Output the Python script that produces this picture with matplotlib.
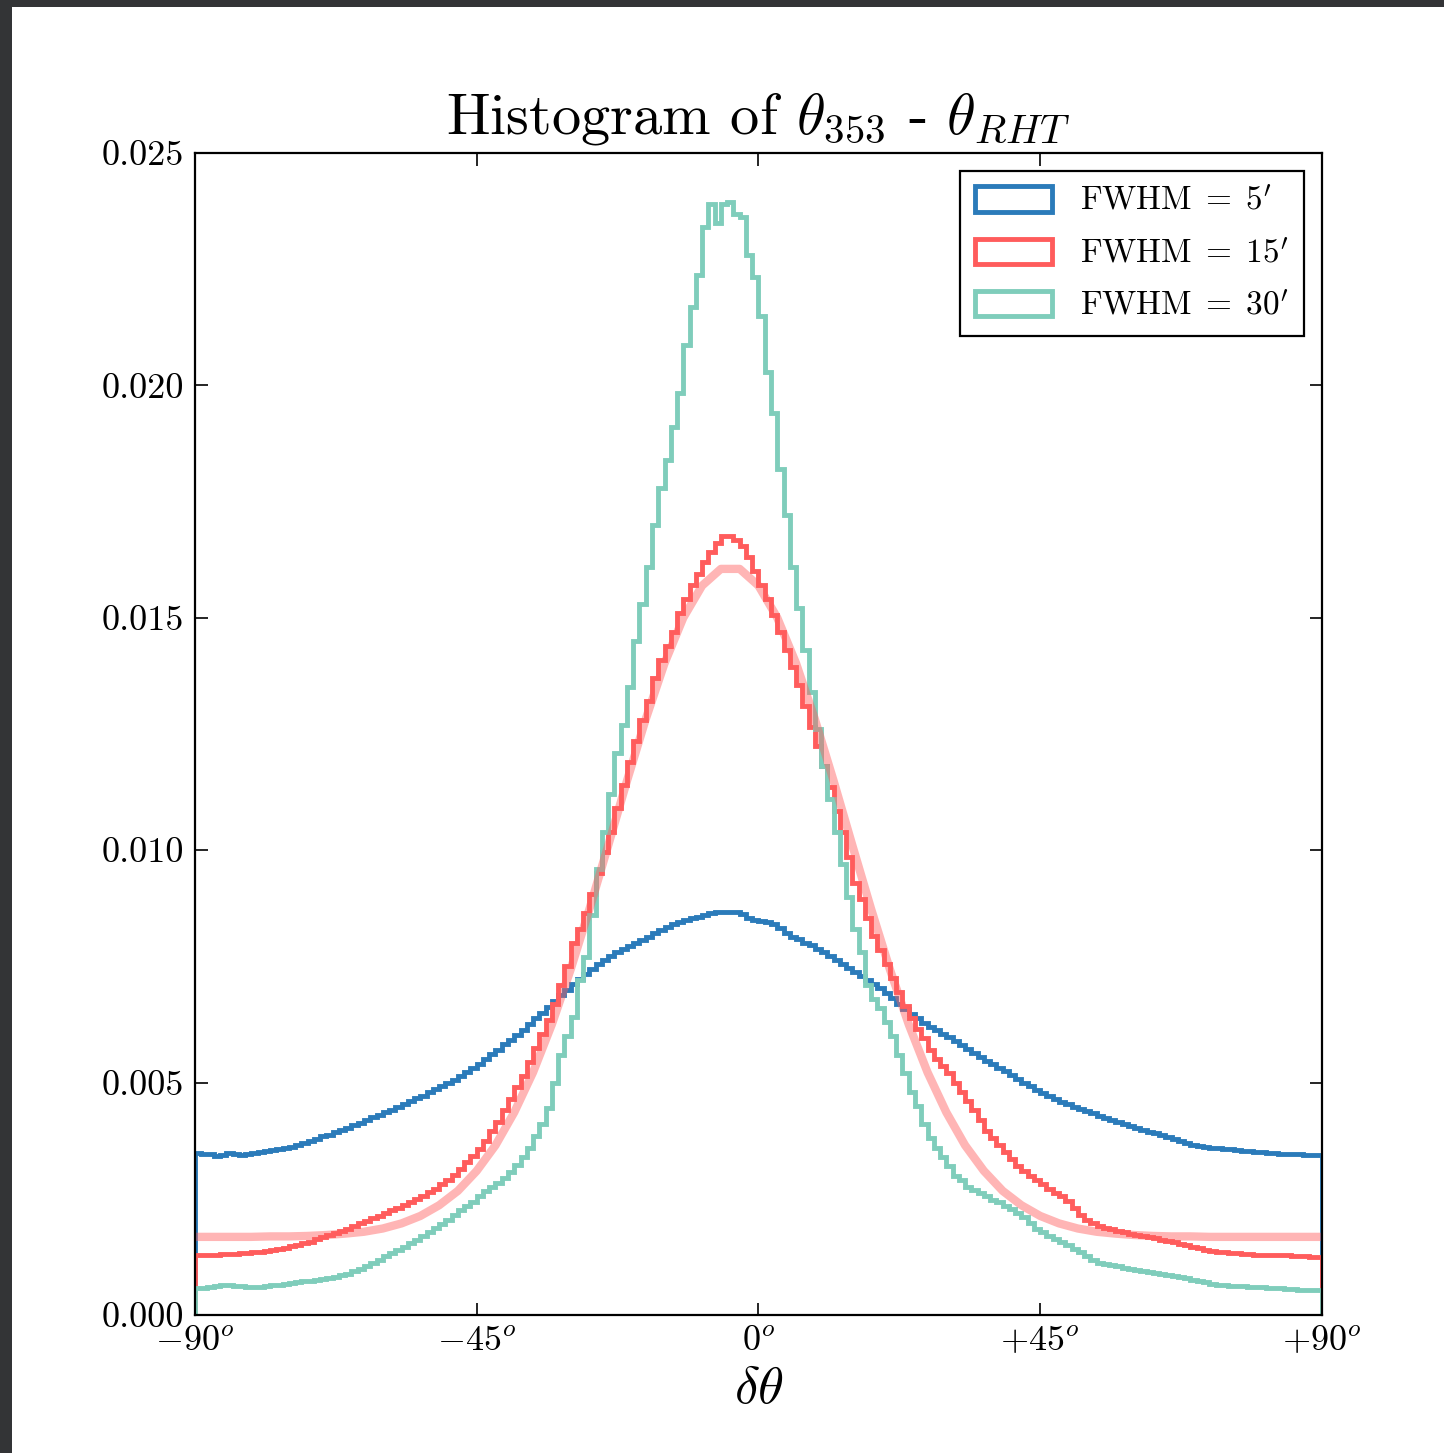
"""Histogram of theta_353 - theta_RHT for three smoothing scales, with Gaussian fit."""
import numpy as np
import matplotlib
matplotlib.use("Agg")
import matplotlib.pyplot as plt
from matplotlib.patches import Rectangle

plt.rcParams["font.family"] = "cmr10"
plt.rcParams["mathtext.fontset"] = "cm"
plt.rcParams["axes.unicode_minus"] = False

# 1-degree bins from -90 to +90
bin_edges = np.arange(-90, 91, 1)

fwhm5 = [
    0.00349, 0.00347, 0.00346, 0.00343, 0.00345, 0.00348, 0.00346, 0.00345, 0.00347, 0.00349,
    0.00350, 0.00352, 0.00354, 0.00357, 0.00360, 0.00362, 0.00365, 0.00370, 0.00374, 0.00379,
    0.00384, 0.00388, 0.00393, 0.00397, 0.00403, 0.00408, 0.00413, 0.00419, 0.00425, 0.00431,
    0.00437, 0.00442, 0.00448, 0.00454, 0.00460, 0.00466, 0.00472, 0.00479, 0.00486, 0.00493,
    0.00499, 0.00506, 0.00515, 0.00523, 0.00531, 0.00540, 0.00550, 0.00561, 0.00571, 0.00582,
    0.00592, 0.00603, 0.00614, 0.00626, 0.00638, 0.00650, 0.00662, 0.00675, 0.00688, 0.00700,
    0.00712, 0.00722, 0.00733, 0.00744, 0.00754, 0.00764, 0.00772, 0.00780, 0.00787, 0.00794,
    0.00800, 0.00807, 0.00814, 0.00821, 0.00828, 0.00835, 0.00840, 0.00845, 0.00849, 0.00853,
    0.00856, 0.00860, 0.00864, 0.00866, 0.00866, 0.00867, 0.00866, 0.00862, 0.00855, 0.00850,
    0.00848, 0.00846, 0.00840, 0.00833, 0.00822, 0.00813, 0.00808, 0.00800, 0.00795, 0.00788,
    0.00780, 0.00773, 0.00764, 0.00756, 0.00747, 0.00738, 0.00730, 0.00721, 0.00712, 0.00703,
    0.00693, 0.00682, 0.00670, 0.00659, 0.00648, 0.00638, 0.00628, 0.00620, 0.00612, 0.00605,
    0.00598, 0.00590, 0.00581, 0.00572, 0.00564, 0.00555, 0.00547, 0.00539, 0.00531, 0.00524,
    0.00516, 0.00508, 0.00500, 0.00493, 0.00485, 0.00478, 0.00472, 0.00465, 0.00459, 0.00453,
    0.00448, 0.00443, 0.00438, 0.00434, 0.00429, 0.00424, 0.00420, 0.00415, 0.00411, 0.00406,
    0.00402, 0.00398, 0.00394, 0.00391, 0.00387, 0.00383, 0.00379, 0.00374, 0.00370, 0.00366,
    0.00363, 0.00362, 0.00360, 0.00359, 0.00358, 0.00357, 0.00355, 0.00353, 0.00352, 0.00350,
    0.00350, 0.00349, 0.00348, 0.00347, 0.00347, 0.00346, 0.00346, 0.00345, 0.00345, 0.00345,
]

fwhm15 = [
    0.00129, 0.00129, 0.00130, 0.00130, 0.00131, 0.00131, 0.00132, 0.00133, 0.00134, 0.00135,
    0.00136, 0.00138, 0.00140, 0.00142, 0.00145, 0.00148, 0.00151, 0.00154, 0.00158, 0.00163,
    0.00168, 0.00172, 0.00176, 0.00180, 0.00186, 0.00192, 0.00197, 0.00202, 0.00208, 0.00213,
    0.00219, 0.00225, 0.00231, 0.00237, 0.00244, 0.00250, 0.00256, 0.00264, 0.00272, 0.00281,
    0.00290, 0.00302, 0.00315, 0.00328, 0.00342, 0.00358, 0.00375, 0.00395, 0.00415, 0.00440,
    0.00465, 0.00490, 0.00515, 0.00545, 0.00575, 0.00605, 0.00635, 0.00670, 0.00710, 0.00750,
    0.00800, 0.00830, 0.00865, 0.00905, 0.00950, 0.00995, 0.01040, 0.01090, 0.01140, 0.01190,
    0.01235, 0.01280, 0.01320, 0.01370, 0.01410, 0.01440, 0.01470, 0.01510, 0.01540, 0.01570,
    0.01595, 0.01620, 0.01642, 0.01660, 0.01675, 0.01675, 0.01668, 0.01655, 0.01630, 0.01600,
    0.01570, 0.01540, 0.01505, 0.01470, 0.01430, 0.01395, 0.01355, 0.01310, 0.01265, 0.01225,
    0.01180, 0.01135, 0.01085, 0.01040, 0.00985, 0.00930, 0.00895, 0.00855, 0.00815, 0.00785,
    0.00755, 0.00725, 0.00695, 0.00665, 0.00638, 0.00615, 0.00595, 0.00570, 0.00550, 0.00535,
    0.00520, 0.00500, 0.00480, 0.00460, 0.00440, 0.00420, 0.00395, 0.00380, 0.00365, 0.00350,
    0.00335, 0.00320, 0.00310, 0.00300, 0.00290, 0.00282, 0.00272, 0.00262, 0.00255, 0.00245,
    0.00230, 0.00215, 0.00205, 0.00198, 0.00192, 0.00188, 0.00184, 0.00181, 0.00178, 0.00175,
    0.00172, 0.00170, 0.00167, 0.00165, 0.00162, 0.00159, 0.00156, 0.00153, 0.00150, 0.00147,
    0.00143, 0.00140, 0.00138, 0.00136, 0.00135, 0.00134, 0.00133, 0.00132, 0.00131, 0.00130,
    0.00130, 0.00129, 0.00129, 0.00128, 0.00128, 0.00127, 0.00126, 0.00126, 0.00125, 0.00125,
]

fwhm30 = [
    0.00058, 0.00059, 0.00061, 0.00063, 0.00064, 0.00064, 0.00063, 0.00062, 0.00061, 0.00060,
    0.00061, 0.00062, 0.00064, 0.00065, 0.00066, 0.00068, 0.00070, 0.00072, 0.00074, 0.00076,
    0.00077, 0.00079, 0.00081, 0.00085, 0.00089, 0.00094, 0.00099, 0.00105, 0.00112, 0.00119,
    0.00126, 0.00133, 0.00140, 0.00147, 0.00154, 0.00162, 0.00170, 0.00178, 0.00187, 0.00196,
    0.00205, 0.00215, 0.00225, 0.00234, 0.00243, 0.00255, 0.00266, 0.00276, 0.00284, 0.00295,
    0.00308, 0.00322, 0.00340, 0.00360, 0.00385, 0.00410, 0.00445, 0.00500, 0.00560, 0.00600,
    0.00640, 0.00720, 0.00770, 0.00860, 0.00960, 0.01040, 0.01120, 0.01210, 0.01270, 0.01350,
    0.01450, 0.01530, 0.01610, 0.01700, 0.01780, 0.01840, 0.01910, 0.01984, 0.02087, 0.02169,
    0.02237, 0.02341, 0.02390, 0.02350, 0.02390, 0.02395, 0.02368, 0.02363, 0.02280, 0.02234,
    0.02148, 0.02029, 0.01940, 0.01820, 0.01720, 0.01610, 0.01520, 0.01430, 0.01340, 0.01260,
    0.01180, 0.01110, 0.01040, 0.00970, 0.00900, 0.00830, 0.00780, 0.00710, 0.00680, 0.00660,
    0.00630, 0.00600, 0.00560, 0.00520, 0.00480, 0.00450, 0.00410, 0.00380, 0.00360, 0.00340,
    0.00320, 0.00300, 0.00290, 0.00275, 0.00268, 0.00262, 0.00255, 0.00248, 0.00242, 0.00235,
    0.00227, 0.00220, 0.00210, 0.00198, 0.00186, 0.00178, 0.00170, 0.00163, 0.00157, 0.00150,
    0.00142, 0.00135, 0.00127, 0.00118, 0.00112, 0.00110, 0.00107, 0.00105, 0.00102, 0.00099,
    0.00097, 0.00095, 0.00093, 0.00091, 0.00089, 0.00087, 0.00084, 0.00082, 0.00079, 0.00076,
    0.00073, 0.00070, 0.00067, 0.00065, 0.00064, 0.00063, 0.00062, 0.00062, 0.00061, 0.00060,
    0.00060, 0.00059, 0.00058, 0.00057, 0.00056, 0.00055, 0.00054, 0.00054, 0.00054, 0.00054,
]

# Gaussian fit to the FWHM = 15' histogram, read every 3 degrees
fit_x = np.arange(-90, 91, 3)
fit_y = [
    0.00168, 0.00168, 0.00168, 0.00168,
    0.00169, 0.00169, 0.00170, 0.00172, 0.00175, 0.00179, 0.00186, 0.00197, 0.00213, 0.00236,
    0.00267, 0.00310, 0.00365, 0.00436, 0.00522, 0.00625, 0.00743, 0.00873, 0.01010, 0.01149,
    0.01282, 0.01402, 0.01500, 0.01569, 0.01605, 0.01605,
    0.01569, 0.01500, 0.01402, 0.01282, 0.01149, 0.01010, 0.00873, 0.00743, 0.00625, 0.00522,
    0.00436, 0.00365, 0.00310, 0.00267, 0.00236, 0.00213, 0.00197, 0.00186, 0.00179, 0.00175,
    0.00172, 0.00170, 0.00169, 0.00169,
    0.00168, 0.00168, 0.00168, 0.00168, 0.00168, 0.00168, 0.00168,
]

labels = [r"FWHM$\;=\;5'$", r"FWHM$\;=\;15'$", r"FWHM$\;=\;30'$"]
colors = ["#2b7bba", "#ff5c5c", "#7fcdbb"]

xtick_pos = [-90, -45, 0, 45, 90]
xtick_labels = [r"$-90^o$", r"$-45^o$", r"$0^o$", r"$+45^o$", r"$+90^o$"]


def main():
    fig = plt.figure(figsize=(14.44, 14.53), dpi=100, facecolor="#333436")
    # white page inside the dark screenshot frame
    fig.patches.append(Rectangle((12 / 1444, 0), 1, 1 - 7 / 1453, transform=fig.transFigure,
                                 facecolor="white", edgecolor="none", zorder=-10))
    ax = fig.add_axes([0.135, 0.095, 0.7805, 0.7998])

    centers = 0.5 * (bin_edges[:-1] + bin_edges[1:])
    for vals, lab, col in zip([fwhm5, fwhm15, fwhm30], labels, colors):
        ax.hist(centers, bins=bin_edges, weights=vals, histtype="step",
                color=col, lw=3.5, label=lab)

    ax.plot(fit_x, fit_y, color="#ff5c5c", alpha=0.45, lw=6, solid_capstyle="butt")

    ax.set_xlim(-90, 90)
    ax.set_ylim(0, 0.025)
    ax.set_xticks(xtick_pos)
    ax.set_xticklabels(xtick_labels)
    ax.set_yticks([0.0, 0.005, 0.010, 0.015, 0.020, 0.025])
    ax.set_yticklabels(["0.000", "0.005", "0.010", "0.015", "0.020", "0.025"])
    ax.tick_params(direction="in", length=9, width=1.2, top=True, right=True,
                   labelsize=26, pad=8)
    for s in ax.spines.values():
        s.set_linewidth(1.6)

    ax.set_title(r"Histogram of $\theta_{353}$ - $\theta_{RHT}$", fontsize=42, pad=14)
    ax.set_xlabel(r"$\delta\theta$", fontsize=38, labelpad=6)

    leg = ax.legend(loc="upper right", fontsize=24, fancybox=False, framealpha=1,
                    edgecolor="black", handlelength=2.3, handleheight=0.8,
                    handletextpad=0.85, labelspacing=0.66, borderpad=0.45,
                    borderaxespad=0.55)
    leg.get_frame().set_linewidth(1.6)

    fig.savefig("out.png", dpi=100, facecolor=fig.get_facecolor())


if __name__ == "__main__":
    main()
